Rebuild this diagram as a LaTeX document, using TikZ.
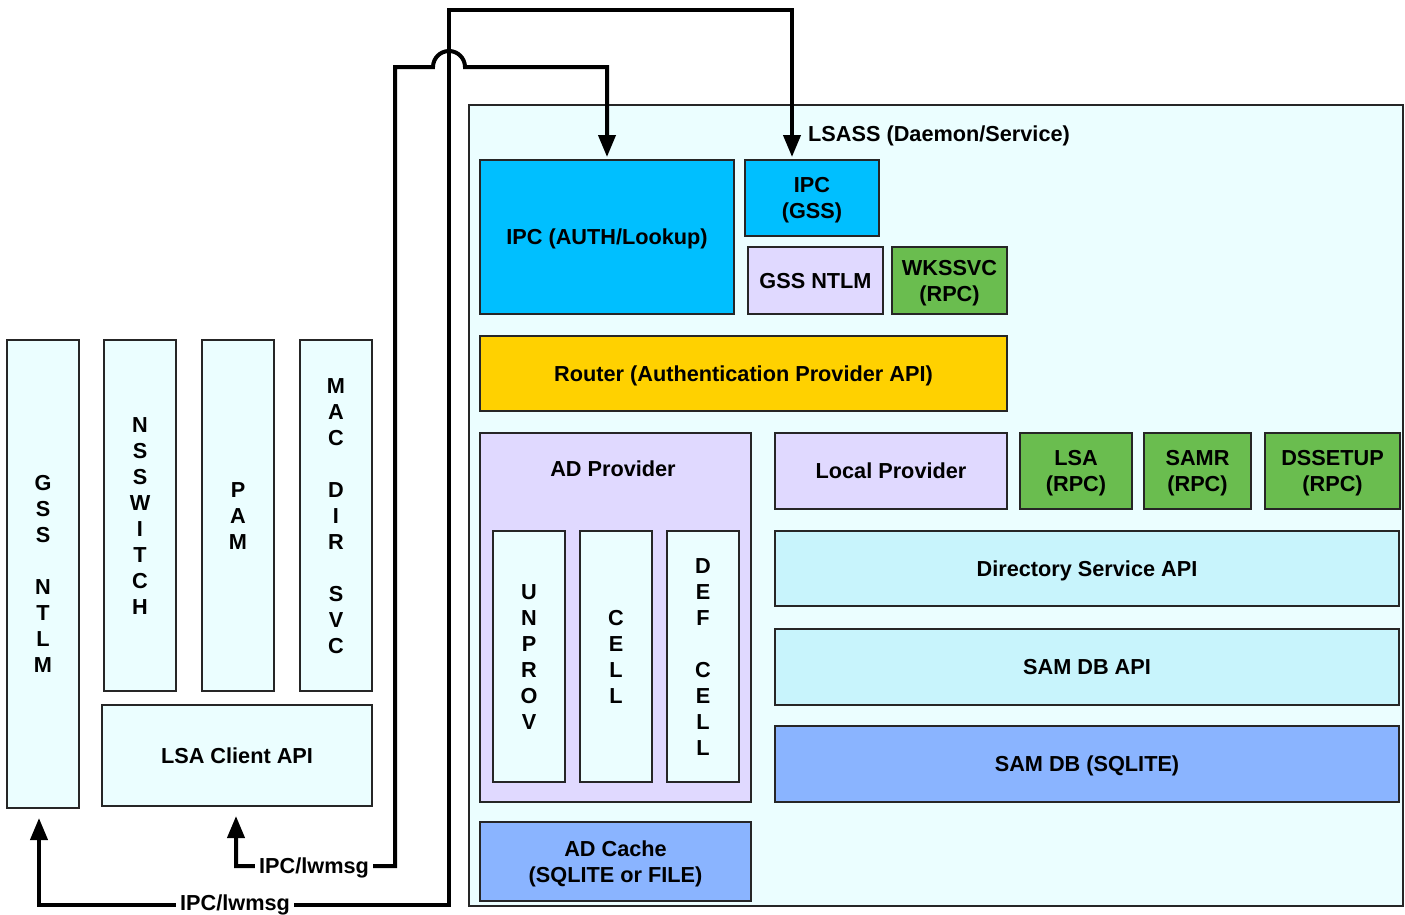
\documentclass[tikz,border=0pt]{standalone}
\usepackage{fontspec}
\setmainfont{Liberation Sans}
\usetikzlibrary{arrows.meta}
\definecolor{bgcyan}{HTML}{EBFEFF}
\definecolor{ipcblue}{HTML}{00BFFF}
\definecolor{lav}{HTML}{E0D9FF}
\definecolor{grn}{HTML}{6ABD4F}
\definecolor{gold}{HTML}{FFD100}
\definecolor{apicyan}{HTML}{C8F4FC}
\definecolor{dbblue}{HTML}{8AB4FF}
% text block whose reported box is the cap-height block (centred on capitals)
\newcommand\tb[1]{\raisebox{0pt}[\dimexpr\height-\ht\strutbox+\fontcharht\font`H+1pt\relax][0pt]{\begin{tabular}[b]{@{}c@{}}#1\end{tabular}}}
\tikzset{
  txt/.style={font=\bfseries\fontsize{21.7}{26}\selectfont},
  box/.style={txt, draw=black!85, line width=2pt, inner sep=0pt},
  conn/.style={arrows={Triangle[length=22pt,width=17pt]-Triangle[length=22pt,width=17pt]}, line width=4pt, line join=miter},
  lbl/.style={txt, fill=white, inner xsep=4pt, inner ysep=2pt}
}
\begin{document}
\begin{tikzpicture}[x=1pt,y=-1pt]
\useasboundingbox (0,0) rectangle (1405,914);
\fill[white] (0,0) rectangle (1405,914);
% LSASS container
\node[box, fill=bgcyan, minimum width=934, minimum height=801] (lsass) at (936,505.5) {};
\node[txt, anchor=west, inner sep=0pt] (lsasslbl) at (808,134) {\tb{LSASS (Daemon/Service)}};
% top row
\node[box, fill=ipcblue, minimum width=254, minimum height=154] (ipcauth) at (607,237) {\tb{IPC (AUTH/Lookup)}};
\node[box, fill=ipcblue, minimum width=134, minimum height=76] (ipcgss) at (812,198) {\tb{IPC\\(GSS)}};
\node[box, fill=lav, minimum width=135, minimum height=67] (gssntlm) at (815.5,280.5) {\tb{GSS NTLM}};
\node[box, fill=grn, minimum width=115, minimum height=67] (wkssvc) at (949.5,280.5) {\tb{WKSSVC\\(RPC)}};
\node[box, fill=gold, minimum width=527, minimum height=75] (router) at (743.5,373.5) {\tb{Router (Authentication Provider API)}};
% AD provider
\node[box, fill=lav, minimum width=271, minimum height=369] (adprov) at (615.5,617.5) {};
\node[txt, inner sep=0pt] (adprovlbl) at (613,469) {\tb{AD Provider}};
\node[box, fill=bgcyan, minimum width=72, minimum height=251] (unprov) at (529,656.5) {\tb{U\\N\\P\\R\\O\\V}};
\node[box, fill=bgcyan, minimum width=72, minimum height=251] (cell) at (616,656.5) {\tb{C\\E\\L\\L}};
\node[box, fill=bgcyan, minimum width=72, minimum height=251] (defcell) at (703,656.5) {\tb{D\\E\\F\\~\\C\\E\\L\\L}};
\node[box, fill=dbblue, minimum width=271, minimum height=79] (adcache) at (615.5,861.5) {\tb{AD Cache\\(SQLITE or FILE)}};
% local provider side
\node[box, fill=lav, minimum width=232, minimum height=76] (localprov) at (891,471) {\tb{Local Provider}};
\node[box, fill=grn, minimum width=112, minimum height=76] (lsarpc) at (1076,471) {\tb{LSA\\(RPC)}};
\node[box, fill=grn, minimum width=107, minimum height=76] (samr) at (1197.5,471) {\tb{SAMR\\(RPC)}};
\node[box, fill=grn, minimum width=135, minimum height=76] (dssetup) at (1332.5,471) {\tb{DSSETUP\\(RPC)}};
\node[box, fill=apicyan, minimum width=624, minimum height=75] (dsapi) at (1087,568.5) {\tb{Directory Service API}};
\node[box, fill=apicyan, minimum width=624, minimum height=76] (samdbapi) at (1087,666.5) {\tb{SAM DB API}};
\node[box, fill=dbblue, minimum width=624, minimum height=76] (samdb) at (1087,764) {\tb{SAM DB (SQLITE)}};
% left clients
\node[box, fill=bgcyan, minimum width=72, minimum height=468] (gssL) at (43,574) {\tb{G\\S\\S\\~\\N\\T\\L\\M}};
\node[box, fill=bgcyan, minimum width=72, minimum height=351] (nss) at (140,515.5) {\tb{N\\S\\S\\W\\I\\T\\C\\H}};
\node[box, fill=bgcyan, minimum width=72, minimum height=351] (pam) at (238,515.5) {\tb{P\\A\\M}};
\node[box, fill=bgcyan, minimum width=72, minimum height=351] (mac) at (336,515.5) {\tb{M\\A\\C\\~\\D\\I\\R\\~\\S\\V\\C}};
\node[box, fill=bgcyan, minimum width=270, minimum height=101] (lsaclient) at (237,755.5) {\tb{LSA Client API}};
% connector end points
\coordinate (tGss) at ([xshift=-4pt,yshift=-9pt]gssL.south);
\coordinate (tIpcGss) at ([xshift=-20pt,yshift=2pt]ipcgss.north);
\coordinate (tLsaC) at ([xshift=-1pt,yshift=-9pt]lsaclient.south);
\coordinate (tIpcAuth) at ([yshift=2pt]ipcauth.north);
% connectors
\draw[conn] (tGss) -- (tGss |- 0,905) -| (449,10) -| (tIpcGss);
\draw[conn] (tLsaC) -- (tLsaC |- 0,866) -- (395,866) -- (395,67) -- (433,67)
  .. controls (433,58.2) and (440.2,51) .. (449,51)
  .. controls (457.8,51) and (465,58.2) .. (465,67) -- (tIpcAuth |- 0,67) -- (tIpcAuth);
\node[lbl] (lab1) at (235,903) {\tb{IPC/lwmsg}};
\node[lbl] (lab2) at (314,866) {\tb{IPC/lwmsg}};
\end{tikzpicture}
\end{document}
